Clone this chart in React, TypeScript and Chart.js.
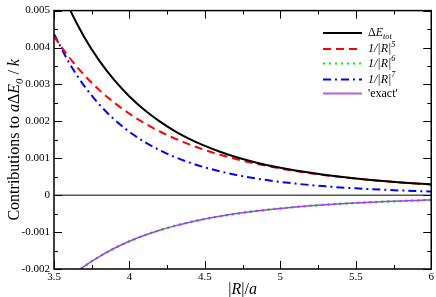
import React, { useEffect, useRef } from "react";
import { Chart, registerables } from "chart.js";

Chart.register(...registerables);

const R = [3.5, 3.6, 3.7, 3.8, 3.9, 4.0, 4.1, 4.2, 4.3, 4.4, 4.5, 4.6, 4.7, 4.8, 4.9, 5.0, 5.1, 5.2, 5.3, 5.4, 5.5, 5.6, 5.7, 5.8, 5.9, 6.0];
const totalE = [0.006034, 0.005072, 0.004288, 0.003644, 0.003114, 0.002674, 0.002306, 0.001998, 0.001738, 0.001519, 0.001335, 0.001178, 0.001040, 0.000925, 0.000825, 0.000740, 0.000668, 0.000605, 0.000548, 0.000497, 0.000453, 0.000413, 0.000378, 0.000346, 0.000318, 0.000292];
const inv5 = [0.004300, 0.003735, 0.003257, 0.002850, 0.002503, 0.002206, 0.001949, 0.001728, 0.001536, 0.001370, 0.001224, 0.001097, 0.000985, 0.000887, 0.000800, 0.000723, 0.000655, 0.000594, 0.000540, 0.000492, 0.000449, 0.000410, 0.000375, 0.000344, 0.000316, 0.000290];
const inv6 = [-0.002636, -0.002251, -0.001931, -0.001663, -0.001438, -0.001248, -0.001087, -0.000950, -0.000832, -0.000732, -0.000645, -0.000570, -0.000506, -0.000450, -0.000401, -0.000358, -0.000320, -0.000287, -0.000258, -0.000232, -0.000210, -0.000190, -0.000172, -0.000156, -0.000142, -0.000129];
const inv7 = [0.004370, 0.003588, 0.002962, 0.002457, 0.002049, 0.001716, 0.001444, 0.001220, 0.001034, 0.000881, 0.000753, 0.000645, 0.000555, 0.000479, 0.000415, 0.000360, 0.000313, 0.000274, 0.000239, 0.000210, 0.000185, 0.000163, 0.000144, 0.000127, 0.000113, 0.000100];
const exact = inv6.slice();

const xMajor = [3.5, 4, 4.5, 5, 5.5, 6];
const xMinor = [3.75, 4.25, 4.75, 5.25, 5.75];
const yMajor = [-0.002, -0.001, 0, 0.001, 0.002, 0.003, 0.004, 0.005];
const yMinor = [-0.0015, -0.0005, 0.0005, 0.0015, 0.0025, 0.0035, 0.0045];

const FONT = '"Liberation Serif", "DejaVu Serif", serif';

type Seg = { t: string; i?: boolean; sub?: boolean; sup?: boolean };

function richWidth(ctx: CanvasRenderingContext2D, segs: Seg[], size: number) {
  let w = 0;
  for (const s of segs) {
    const sz = s.sub || s.sup ? size * 0.68 : size;
    ctx.font = `${s.i ? "italic " : ""}${sz}px ${FONT}`;
    w += ctx.measureText(s.t).width;
  }
  return w;
}

function drawRich(ctx: CanvasRenderingContext2D, segs: Seg[], x: number, y: number, size: number) {
  let cx = x;
  ctx.textBaseline = "alphabetic";
  ctx.textAlign = "left";
  for (const s of segs) {
    const sz = s.sub || s.sup ? size * 0.68 : size;
    ctx.font = `${s.i ? "italic " : ""}${sz}px ${FONT}`;
    const dy = s.sub ? size * 0.28 : s.sup ? -size * 0.45 : 0;
    ctx.fillText(s.t, cx, y + dy);
    cx += ctx.measureText(s.t).width;
  }
}

const legendItems: { segs: Seg[]; color: string; dash: number[]; width: number }[] = [
  { segs: [{ t: "Δ" }, { t: "E", i: true }, { t: "tot", i: true, sub: true }], color: "#000000", dash: [], width: 2 },
  { segs: [{ t: "1/|R|", i: true }, { t: "5", i: true, sup: true }], color: "#ff0000", dash: [8, 5], width: 2 },
  { segs: [{ t: "1/|R|", i: true }, { t: "6", i: true, sup: true }], color: "#00ee00", dash: [2, 4], width: 2 },
  { segs: [{ t: "1/|R|", i: true }, { t: "7", i: true, sup: true }], color: "#0000ff", dash: [8, 4, 2, 4], width: 2 },
  { segs: [{ t: "'exact'" }], color: "#b060e0", dash: [], width: 2 },
];
const legendRows = [33, 49, 63.5, 79.5, 93.5];

const decorPlugin = {
  id: "decor",
  beforeDatasetsDraw(chart: any) {
    const { ctx, chartArea: a, scales } = chart;
    const y0 = scales.y.getPixelForValue(0);
    ctx.save();
    ctx.strokeStyle = "#000";
    ctx.lineWidth = 1;
    ctx.beginPath();
    ctx.moveTo(a.left, y0);
    ctx.lineTo(a.right, y0);
    ctx.stroke();
    ctx.restore();
  },
  afterDraw(chart: any) {
    const { ctx, chartArea: a, scales } = chart;
    const xs = scales.x;
    const ys = scales.y;
    ctx.save();
    ctx.strokeStyle = "#000";
    ctx.lineWidth = 1.5;
    ctx.strokeRect(a.left, a.top, a.right - a.left, a.bottom - a.top);
    ctx.lineWidth = 1;
    const tick = (x1: number, y1: number, x2: number, y2: number) => {
      ctx.beginPath();
      ctx.moveTo(x1, y1);
      ctx.lineTo(x2, y2);
      ctx.stroke();
    };
    xMajor.forEach((v) => {
      const p = Math.round(xs.getPixelForValue(v)) + 0.5;
      tick(p, a.bottom, p, a.bottom - 8);
      tick(p, a.top, p, a.top + 8);
    });
    xMinor.forEach((v) => {
      const p = Math.round(xs.getPixelForValue(v)) + 0.5;
      tick(p, a.bottom, p, a.bottom - 4);
      tick(p, a.top, p, a.top + 4);
    });
    yMajor.forEach((v) => {
      const p = Math.round(ys.getPixelForValue(v)) + 0.5;
      tick(a.left, p, a.left + 8, p);
      tick(a.right, p, a.right - 8, p);
    });
    yMinor.forEach((v) => {
      const p = Math.round(ys.getPixelForValue(v)) + 0.5;
      tick(a.left, p, a.left + 4, p);
      tick(a.right, p, a.right - 4, p);
    });

    // legend
    ctx.fillStyle = "#000";
    legendItems.forEach((it, k) => {
      const yy = legendRows[k];
      ctx.save();
      ctx.strokeStyle = it.color;
      ctx.lineWidth = it.width;
      ctx.setLineDash(it.dash);
      ctx.beginPath();
      ctx.moveTo(323, yy);
      ctx.lineTo(362, yy);
      ctx.stroke();
      ctx.restore();
      drawRich(ctx, it.segs, 368, yy + 3, 12);
    });

    // axis titles
    const ySegs: Seg[] = [
      { t: "Contributions to " },
      { t: "a", i: true },
      { t: "Δ" },
      { t: "E", i: true },
      { t: "0", i: true, sub: true },
      { t: " / " },
      { t: "k", i: true },
    ];
    const wY = richWidth(ctx, ySegs, 16);
    ctx.save();
    ctx.translate(19, (a.top + a.bottom) / 2);
    ctx.rotate(-Math.PI / 2);
    drawRich(ctx, ySegs, -wY / 2, 0, 16);
    ctx.restore();

    const xSegs: Seg[] = [{ t: "|" }, { t: "R", i: true }, { t: "|/" }, { t: "a", i: true }];
    const wX = richWidth(ctx, xSegs, 16);
    drawRich(ctx, xSegs, (a.left + a.right) / 2 - wX / 2, 294, 16);
    ctx.restore();
  },
};

export default function App() {
  const ref = useRef<HTMLCanvasElement | null>(null);
  useEffect(() => {
    document.body.style.margin = "0";
    const mk = (ys: number[]) => R.map((x, i) => ({ x, y: ys[i] }));
    const chart = new Chart(ref.current as HTMLCanvasElement, {
      type: "line",
      data: {
        datasets: [
          { label: "ΔEtot", data: mk(totalE), borderColor: "#000000", borderWidth: 2, order: 1 },
          { label: "1/|R|^5", data: mk(inv5), borderColor: "#ff0000", borderWidth: 2, borderDash: [8, 5], order: 2 },
          { label: "1/|R|^7", data: mk(inv7), borderColor: "#0000ff", borderWidth: 2, borderDash: [8, 4, 2, 4], order: 3 },
          { label: "'exact'", data: mk(exact), borderColor: "#a040f0", borderWidth: 1.5, order: 4 },
          { label: "1/|R|^6", data: mk(inv6), borderColor: "#00ee00", borderWidth: 2.5, borderDash: [2, 4], order: 5 },
        ].map((d) => ({ ...d, pointRadius: 0, fill: false, cubicInterpolationMode: "monotone" as const, clip: 0 })),
      },
      options: {
        animation: false,
        responsive: false,
        maintainAspectRatio: false,
        layout: { padding: { top: 5, right: 4, left: 0, bottom: 0 } },
        plugins: { legend: { display: false }, tooltip: { enabled: false } },
        scales: {
          x: {
            type: "linear",
            min: 3.5,
            max: 6,
            grid: { display: false, drawTicks: false },
            border: { display: false },
            afterFit: (s: any) => {
              s.height = 28;
            },
            ticks: {
              stepSize: 0.5,
              autoSkip: false,
              maxRotation: 0,
              padding: 2,
              color: "#000",
              font: { family: FONT, size: 11 },
              callback: (v: any) => String(Number(Number(v).toFixed(2))),
            },
          },
          y: {
            type: "linear",
            min: -0.002,
            max: 0.005,
            grid: { display: false, drawTicks: false },
            border: { display: false },
            afterFit: (s: any) => {
              s.width = 54;
            },
            ticks: {
              stepSize: 0.001,
              autoSkip: false,
              padding: 4,
              color: "#000",
              font: { family: FONT, size: 11 },
              callback: (v: any) => {
                const n = Number(v);
                if (Math.abs(n) < 1e-9) return "0";
                return n.toFixed(3);
              },
            },
          },
        },
      },
      plugins: [decorPlugin],
    });
    return () => chart.destroy();
  }, []);
  return (
    <div style={{ position: "absolute", left: 0, top: 0, width: 436, height: 297 }}>
      <canvas ref={ref} width={436} height={297} style={{ display: "block", width: 436, height: 297 }} />
    </div>
  );
}
